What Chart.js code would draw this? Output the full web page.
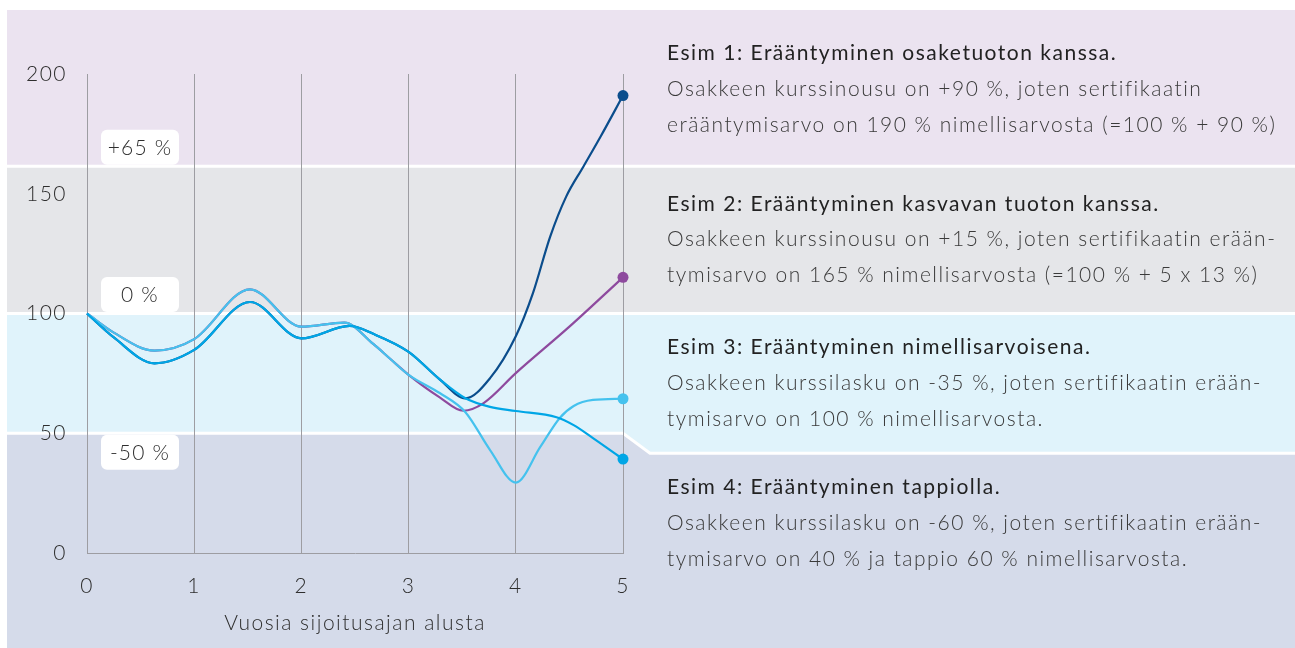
<!DOCTYPE html>
<html lang="fi">
<head>
<meta charset="utf-8">
<title>Erääntymisesimerkit</title>
<script src="https://cdn.jsdelivr.net/npm/chart.js@4.4.1/dist/chart.umd.min.js"></script>
<style>
  html, body { margin: 0; padding: 0; background: #fff; }
  #wrap { position: relative; width: 1295px; height: 648px; overflow: hidden; }
  #wrap canvas { position: absolute; left: 0; top: 0; }
  .esim {
    position: absolute; left: 667px;
    font-family: Lato, "Open Sans", sans-serif;
    font-size: 21px; line-height: 35.8px;
    color: #3a3a3a; font-weight: 300;
    letter-spacing: 1.5px;
    white-space: nowrap;
  }
  .esim b { font-weight: 400; color: #222; letter-spacing: 1.5px; }
</style>
</head>
<body>
<div id="wrap">
  <canvas id="chart" width="1295" height="648"></canvas>
  <div class="esim" style="top:34px">
    <b>Esim 1: Erääntyminen osaketuoton kanssa.</b><br>
    Osakkeen kurssinousu on +90 %, joten sertifikaatin<br>
    erääntymisarvo on 190 % nimellisarvosta (=100 % + 90 %)
  </div>
  <div class="esim" style="top:184.6px">
    <b>Esim 2: Erääntyminen kasvavan tuoton kanssa.</b><br>
    Osakkeen kurssinousu on +15 %, joten sertifikaatin erään-<br>
    tymisarvo on 165 % nimellisarvosta (=100 % + 5 x 13 %)
  </div>
  <div class="esim" style="top:328.2px">
    <b>Esim 3: Erääntyminen nimellisarvoisena.</b><br>
    Osakkeen kurssilasku on -35 %, joten sertifikaatin erään-<br>
    tymisarvo on 100 % nimellisarvosta.
  </div>
  <div class="esim" style="top:468px">
    <b>Esim 4: Erääntyminen tappiolla.</b><br>
    Osakkeen kurssilasku on -60 %, joten sertifikaatin erään-<br>
    tymisarvo on 40 % ja tappio 60 % nimellisarvosta.
  </div>
</div>
<script>
// ---- Data (luettu kuvasta) ----

// Esim 1: osaketuotto (tummansininen)
const X_ESIM1 = [0, 0.25, 0.63, 1, 1.52, 2, 2.45, 2.67, 3, 3.29, 3.53, 3.76, 4, 4.16, 4.32, 4.47, 4.63, 4.79, 5];
const Y_ESIM1 = [100, 90, 79.2, 84.8, 104.8, 89.6, 94.8, 91.5, 84, 72.5, 64.6, 73, 90.5, 108.5, 132, 148.8, 161.3, 173.8, 191];

// Esim 2: kasvava tuotto (violetti)
const X_ESIM2 = [0, 0.25, 0.63, 1, 1.52, 2, 2.4, 2.67, 2.83, 3, 3.29, 3.51, 3.7, 4, 4.5, 5];
const Y_ESIM2 = [100, 92, 84.5, 89.3, 110.1, 94.5, 96.2, 87.3, 81, 74.4, 65, 59.4, 62.6, 75.1, 94.5, 115.1];

// Esim 3: nimellisarvo (vaaleansininen)
const X_ESIM3 = [0, 0.25, 0.63, 1, 1.52, 2, 2.4, 2.67, 2.83, 3, 3.29, 3.53, 3.76, 4, 4.23, 4.41, 4.54, 4.72, 5];
const Y_ESIM3 = [100, 92, 84.5, 89.3, 110.1, 94.5, 96.2, 87.3, 81, 74.4, 66.8, 58.8, 43, 29.4, 44.4, 56.4, 61.4, 63.9, 64.4];

// Esim 4: tappio (sininen)
const X_ESIM4 = [0, 0.25, 0.63, 1, 1.52, 2, 2.45, 2.67, 3, 3.29, 3.53, 3.76, 4, 4.38, 4.54, 4.72, 5];
const Y_ESIM4 = [100, 90, 79.2, 84.8, 104.8, 89.6, 94.8, 91.5, 84, 72.5, 64.6, 61, 59.3, 56.7, 53.4, 48, 39.2];

// Taustavyöhykkeiden rajat (y-arvoina) ja niiden merkinnät
const BAND_EDGES = [161.5, 100, 50];
const BAND_EDGE_RIGHT = 41.7;   // alin raja porrastuu oikealla
const BAND_LABELS = ['+65 %', '0 %', '-50 %'];
const BAND_COLORS = ['#ebe3f0', '#e5e6e9', '#e0f3fb', '#d5dbea'];

const X_TICKS = [0, 1, 2, 3, 4, 5];
const Y_TICKS = [0, 50, 100, 150, 200];
const X_TITLE = 'Vuosia sijoitusajan alusta';

const FONT = 'Lato, "Open Sans", sans-serif';

function pts(xs, ys) {
  return xs.map((x, i) => ({ x, y: ys[i] }));
}

function lastDot(n) {
  return ctx => (ctx.dataIndex === n - 1 ? 5.5 : 0);
}

function line(xs, ys, color, order) {
  return {
    data: pts(xs, ys),
    borderColor: color,
    backgroundColor: color,
    borderWidth: 2.2,
    cubicInterpolationMode: 'monotone',
    pointRadius: lastDot(xs.length),
    pointHoverRadius: lastDot(xs.length),
    pointBorderWidth: 0,
    clip: false,
    order,
  };
}

// ---- Tausta ja prosenttimerkinnät ----
const bandsPlugin = {
  id: 'bands',
  beforeDraw(chart) {
    const { ctx, width, height, scales: { x, y } } = chart;
    const left = 7, top = 10;
    const e = BAND_EDGES.map(v => y.getPixelForValue(v));
    const eR = y.getPixelForValue(BAND_EDGE_RIGHT);
    const x5 = x.getPixelForValue(5);
    // kirjainväli koskee myös akselien tekstejä
    ctx.letterSpacing = '1.5px';
    ctx.save();
    ctx.fillStyle = '#fff';
    ctx.fillRect(0, 0, width, height);

    ctx.fillStyle = BAND_COLORS[0];
    ctx.fillRect(left, top, width - left, e[0] - top);
    ctx.fillStyle = BAND_COLORS[1];
    ctx.fillRect(left, e[0], width - left, e[1] - e[0]);
    ctx.fillStyle = BAND_COLORS[3];
    ctx.fillRect(left, e[2], width - left, height - e[2]);
    // vaaleansininen vyöhyke, porrastettu oikealla
    ctx.fillStyle = BAND_COLORS[2];
    ctx.beginPath();
    ctx.moveTo(left, e[1]);
    ctx.lineTo(width, e[1]);
    ctx.lineTo(width, eR);
    ctx.lineTo(x5 + 27, eR);
    ctx.lineTo(x5, e[2]);
    ctx.lineTo(left, e[2]);
    ctx.closePath();
    ctx.fill();

    // valkoiset rajaviivat
    ctx.strokeStyle = '#fff';
    ctx.lineWidth = 3;
    ctx.beginPath();
    ctx.moveTo(left, e[0]); ctx.lineTo(width, e[0]);
    ctx.moveTo(left, e[1]); ctx.lineTo(width, e[1]);
    ctx.moveTo(left, e[2]); ctx.lineTo(x5, e[2]);
    ctx.lineTo(x5 + 27, eR); ctx.lineTo(width, eR);
    ctx.stroke();
    ctx.restore();
  },
  afterDraw(chart) {
    const { ctx, chartArea, scales: { y } } = chart;
    const bx = chartArea.left + 14, bw = 78, bh = 35;
    ctx.save();
    ctx.font = '300 21px ' + FONT;
    ctx.letterSpacing = '1.2px';
    ctx.textAlign = 'center';
    ctx.textBaseline = 'middle';
    BAND_EDGES.forEach((v, i) => {
      const py = y.getPixelForValue(v);
      const by = i < 2 ? py - 1.5 - bh : py + 1.5;
      ctx.fillStyle = '#fff';
      ctx.beginPath();
      ctx.roundRect(bx, by, bw, bh, 6);
      ctx.fill();
      ctx.fillStyle = '#2e2e2e';
      ctx.fillText(BAND_LABELS[i], bx + bw / 2, by + bh / 2 + 1);
    });
    ctx.restore();
  },
};

Chart.defaults.font.family = FONT;
Chart.defaults.font.size = 21;
Chart.defaults.font.weight = 300;
Chart.defaults.color = '#2e2e2e';

new Chart(document.getElementById('chart'), {
  type: 'line',
  data: {
    datasets: [
      line(X_ESIM2, Y_ESIM2, '#8e4a9e', 4),
      line(X_ESIM1, Y_ESIM1, '#0b4d8c', 3),
      line(X_ESIM3, Y_ESIM3, '#45c2ee', 2),
      line(X_ESIM4, Y_ESIM4, '#00a6e6', 1),
    ],
  },
  options: {
    responsive: false,
    animation: false,
    layout: { padding: { top: 74, right: 672, bottom: 0, left: 0 } },
    plugins: {
      legend: { display: false },
      tooltip: { enabled: false },
    },
    scales: {
      x: {
        type: 'linear',
        min: 0,
        max: 5,
        afterFit: s => { s.height = 95; },
        afterBuildTicks: s => { s.ticks = X_TICKS.map(v => ({ value: v })); },
        ticks: { padding: 21 },
        grid: { color: '#9d9da2', lineWidth: 1, drawTicks: false },
        border: { display: true, color: '#9d9da2', width: 1 },
        title: {
          display: true,
          text: X_TITLE,
          padding: { top: 0, bottom: 12 },
          font: { size: 21, weight: 300 },
        },
      },
      y: {
        min: 0,
        max: 200,
        afterFit: s => { s.width = 87; },
        afterBuildTicks: s => { s.ticks = Y_TICKS.map(v => ({ value: v })); },
        ticks: { padding: 20 },
        grid: { display: false, drawTicks: false },
        border: { display: false },
      },
    },
  },
  plugins: [bandsPlugin],
});
</script>
</body>
</html>
